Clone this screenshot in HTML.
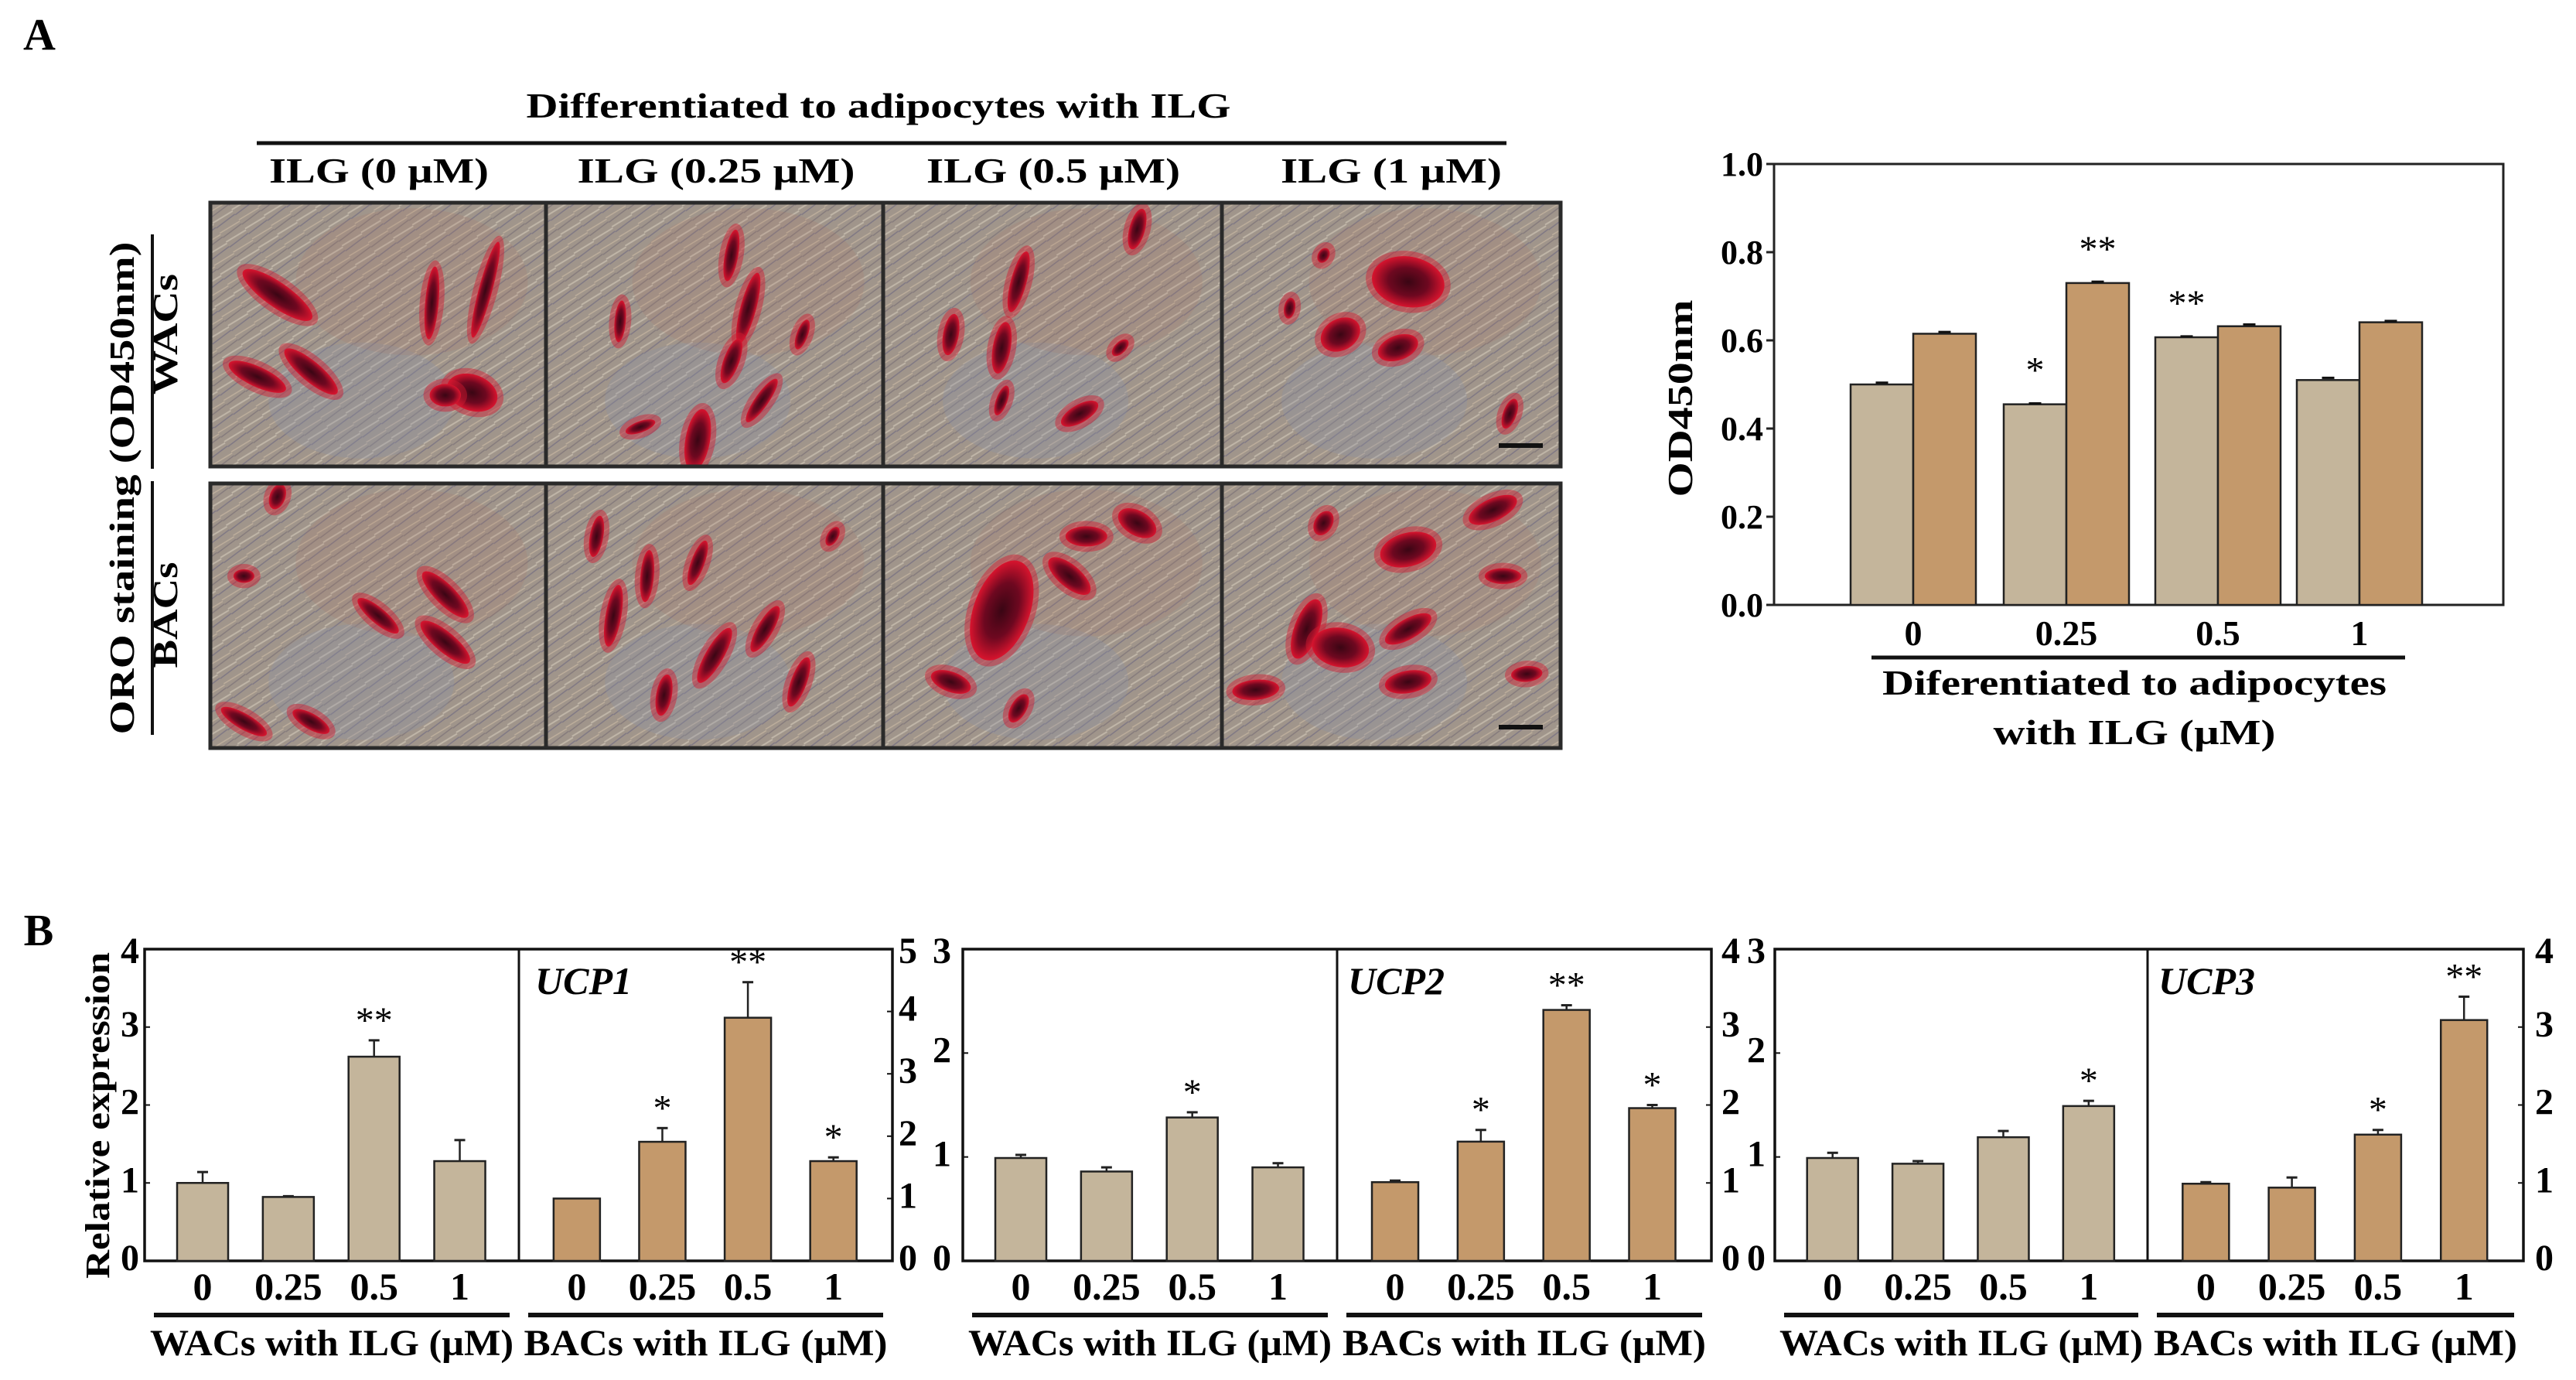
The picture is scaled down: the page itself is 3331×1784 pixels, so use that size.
<!DOCTYPE html>
<html><head><meta charset="utf-8"><style>
html,body{margin:0;padding:0;background:#fff}
svg{display:block}
text{font-family:"Liberation Serif",serif}
.b{font-weight:bold}
</style></head><body>
<svg id="fig" width="3331" height="1784" viewBox="0 0 3331 1784" xmlns="http://www.w3.org/2000/svg">
<defs>
<pattern id="fib" width="30" height="30" patternUnits="userSpaceOnUse" patternTransform="rotate(-35)">
<rect width="30" height="30" fill="#a0958b"/>
<line x1="0" y1="4" x2="30" y2="6" stroke="#c0b6a8" stroke-width="2"/>
<line x1="0" y1="12" x2="30" y2="11" stroke="#7f7884" stroke-width="1.5"/>
<line x1="0" y1="20" x2="30" y2="22" stroke="#bdae9c" stroke-width="1.5"/>
<line x1="0" y1="27" x2="30" y2="26" stroke="#857b7c" stroke-width="1.5"/>
</pattern>
<radialGradient id="blob"><stop offset="0" stop-color="#3a0614"/><stop offset="0.55" stop-color="#6e0820"/><stop offset="1" stop-color="#d8142e"/></radialGradient>
</defs>
<g id="panelA"></g>
<g id="chartA"></g>
<g id="panelB"></g>
</svg>
<script>
const NS="http://www.w3.org/2000/svg";
function el(parent,tag,attrs,txt){const e=document.createElementNS(NS,tag);for(const k in attrs)e.setAttribute(k,attrs[k]);if(txt!==undefined)e.textContent=txt;parent.appendChild(e);return e;}

// ---------- Chart A data ----------
const aCategories=["0","0.25","0.5","1"];
const aWacs=[0.50,0.455,0.607,0.51];
const aBacs=[0.615,0.73,0.632,0.641];
const aWacsErr=[0.004,0.002,0.002,0.005];
const aBacsErr=[0.004,0.003,0.004,0.003];
const aTicks=[0,0.2,0.4,0.6,0.8,1.0];
const aTickLabels=["0.0","0.2","0.4","0.6","0.8","1.0"];
const aStars=[{g:1,s:0,t:"*"},{g:1,s:1,t:"**"},{g:2,s:0,t:"**"}];

// ---------- Panel B data ----------
const bCategories=["0","0.25","0.5","1"];
const ucp1Wacs=[1.0,0.82,2.62,1.28];
const ucp1WacsErr=[0.14,0.01,0.21,0.27];
const ucp1Bacs=[1.0,1.91,3.9,1.6];
const ucp1BacsErr=[0,0.22,0.57,0.06];
const ucp2Wacs=[0.99,0.86,1.38,0.90];
const ucp2WacsErr=[0.03,0.04,0.05,0.04];
const ucp2Bacs=[1.01,1.53,3.22,1.96];
const ucp2BacsErr=[0.02,0.15,0.06,0.04];
const ucp3Wacs=[0.99,0.935,1.19,1.49];
const ucp3WacsErr=[0.05,0.025,0.06,0.05];
const ucp3Bacs=[0.99,0.94,1.62,3.09];
const ucp3BacsErr=[0.02,0.13,0.06,0.3];
const ucp1Stars=[["",  "","**",""],["","*","**","*"]];
const ucp2Stars=[["","","*",""],["","*","**","*"]];
const ucp3Stars=[["","","","*"],["","","*","**"]];

const BEIGE="#c4b59b", TAN="#c4996b";

// ================= Panel A micrographs =================
const A=document.getElementById('panelA');
let t=el(A,'text',{x:51,y:64,'font-size':58,class:'b','text-anchor':'middle'},'A');

t=el(A,'text',{x:1136,y:152,'font-size':46,class:'b','text-anchor':'middle',textLength:911,lengthAdjust:'spacingAndGlyphs'},'Differentiated to adipocytes with ILG');

let ln=el(A,'line',{x1:332,y1:185,x2:1948,y2:185,stroke:'#111','stroke-width':5});

const colLabels=["ILG (0 µM)","ILG (0.25 µM)","ILG (0.5 µM)","ILG (1 µM)"];
const colX=[490,926,1362,1799];const colW=[284,359,328,286];
colLabels.forEach((s,i)=>{const e=el(A,'text',{x:colX[i],y:236,'font-size':46,class:'b','text-anchor':'middle',textLength:colW[i],lengthAdjust:'spacingAndGlyphs'},s);
});
t=el(A,'text',{x:0,y:0,'font-size':46,class:'b','text-anchor':'middle',transform:'translate(173,631) rotate(-90)',textLength:637,lengthAdjust:'spacingAndGlyphs'},'ORO staining (OD450nm)');

t=el(A,'text',{x:0,y:0,'font-size':46,class:'b','text-anchor':'middle',transform:'translate(229,432) rotate(-90)',textLength:156,lengthAdjust:'spacingAndGlyphs'},'WACs');

t=el(A,'text',{x:0,y:0,'font-size':46,class:'b','text-anchor':'middle',transform:'translate(229,795) rotate(-90)',textLength:137,lengthAdjust:'spacingAndGlyphs'},'BACs');

ln=el(A,'line',{x1:197,y1:303,x2:197,y2:606,stroke:'#111','stroke-width':4});

ln=el(A,'line',{x1:197,y1:622,x2:197,y2:950,stroke:'#111','stroke-width':4});


const colEdges=[272,706,1142,1580,2018];
const rowEdges=[[262,603],[625,967]];
const blobs=[
 [[0.2,0.35,80,22,-35],[0.14,0.66,60,18,-25],[0.3,0.64,65,18,-40],[0.66,0.38,70,12,85],[0.82,0.33,95,12,75],[0.78,0.72,50,32,-20],[0.7,0.73,30,20,0]],
 [[0.55,0.2,50,12,80],[0.6,0.4,70,14,75],[0.22,0.45,40,10,85],[0.55,0.6,45,14,70],[0.45,0.9,60,22,80],[0.64,0.75,50,12,55],[0.28,0.85,30,10,20],[0.76,0.5,30,10,70]],
 [[0.4,0.3,60,14,75],[0.35,0.55,50,16,80],[0.2,0.5,40,14,80],[0.75,0.1,40,14,75],[0.58,0.8,40,16,30],[0.35,0.75,30,10,70],[0.7,0.55,20,10,45]],
 [[0.55,0.3,70,45,-10],[0.35,0.5,40,28,30],[0.52,0.55,40,22,20],[0.2,0.4,20,10,80],[0.85,0.8,30,12,70],[0.3,0.2,15,10,60]],
 [[0.2,0.05,25,14,70],[0.5,0.5,50,14,-40],[0.7,0.42,60,18,-45],[0.7,0.6,60,18,-40],[0.1,0.9,50,14,-30],[0.3,0.9,40,14,-30],[0.1,0.35,20,12,0]],
 [[0.15,0.2,40,12,80],[0.2,0.5,60,14,80],[0.3,0.35,50,12,85],[0.45,0.3,45,12,70],[0.5,0.65,60,16,60],[0.65,0.55,50,14,60],[0.75,0.75,50,14,70],[0.35,0.8,40,14,80],[0.85,0.2,20,10,60]],
 [[0.35,0.48,100,50,70],[0.55,0.35,50,20,-40],[0.75,0.15,40,22,-30],[0.6,0.2,40,18,0],[0.2,0.75,40,18,-20],[0.4,0.85,30,14,60]],
 [[0.55,0.25,55,30,15],[0.8,0.1,50,20,25],[0.3,0.15,25,16,60],[0.25,0.55,60,22,70],[0.35,0.62,55,35,-10],[0.55,0.55,50,18,30],[0.55,0.75,45,20,10],[0.1,0.78,45,18,5],[0.9,0.72,30,14,5],[0.83,0.35,35,14,0]]
];
let k=0;
rowEdges.forEach((r,ri)=>{
 for(let ci=0;ci<4;ci++){
  const x0=colEdges[ci],x1=colEdges[ci+1],y0=r[0],y1=r[1];
  const g=el(A,'g',{});
  
  const cp=el(g,'clipPath',{id:'cp'+k});el(cp,'rect',{x:x0,y:y0,width:x1-x0,height:y1-y0});
  const inner=el(g,'g',{'clip-path':'url(#cp'+k+')'});
  el(inner,'rect',{x:x0,y:y0,width:x1-x0,height:y1-y0,fill:'url(#fib)'});
  el(inner,'ellipse',{cx:x0+(x1-x0)*0.45,cy:y0+(y1-y0)*0.75,rx:120,ry:75,fill:'#8a93a6',opacity:0.3});
  el(inner,'ellipse',{cx:x0+(x1-x0)*0.6,cy:y0+(y1-y0)*0.3,rx:150,ry:95,fill:'#b07060',opacity:0.15});
  blobs[k].forEach(b=>{
   const cx=x0+(x1-x0)*b[0],cy=y0+(y1-y0)*b[1];
   const L=b[2]*1.35,W=b[3]*1.45;
   el(inner,'ellipse',{cx:cx,cy:cy,rx:L/2+8,ry:W/2+7,fill:'#d01a30',opacity:0.45,transform:`rotate(${-b[4]} ${cx} ${cy})`});
   el(inner,'ellipse',{cx:cx,cy:cy,rx:L/2,ry:W/2,fill:'url(#blob)',transform:`rotate(${-b[4]} ${cx} ${cy})`});
  });
  if(ci===3){el(inner,'rect',{x:1938,y:y1-30,width:57,height:6,fill:'#111'});}
  el(g,'rect',{x:x0,y:y0,width:x1-x0,height:y1-y0,fill:'none',stroke:'#2a2a2a','stroke-width':5});
  k++;
 }
});

// ================= Chart A =================
const C=document.getElementById('chartA');
const aX0=2294,aX1=3237,aY0=212,aY1=782;
const ay=v=>aY1-(v/1.0)*(aY1-aY0);
const aGroupC=[2474,2672,2868,3051];
const aBw=81;
let r=el(C,'rect',{x:aX0,y:aY0,width:aX1-aX0,height:aY1-aY0,fill:'none',stroke:'#222','stroke-width':3});

aTicks.forEach((v,i)=>{
 const tk=el(C,'line',{x1:aX0-10,x2:aX0,y1:ay(v),y2:ay(v),stroke:'#222','stroke-width':3});
 
 const tl=el(C,'text',{x:aX0-14,y:ay(v)+15,'font-size':44,class:'b','text-anchor':'end'},aTickLabels[i]);
 
});
aCategories.forEach((c,i)=>{
 [[aWacs,aWacsErr,BEIGE,-1],[aBacs,aBacsErr,TAN,0]].forEach(([vals,errs,col,off],s)=>{
  const x=aGroupC[i]+off*aBw;
  const bar=el(C,'rect',{x:x,y:ay(vals[i]),width:aBw,height:aY1-ay(vals[i]),fill:col,stroke:'#222','stroke-width':2.5});
  
  const eb=el(C,'line',{x1:x+aBw/2-8,x2:x+aBw/2+8,y1:ay(vals[i]+errs[i]),y2:ay(vals[i]+errs[i]),stroke:'#111','stroke-width':3});
  
 });
 const xl=el(C,'text',{x:aGroupC[i],y:834,'font-size':46,class:'b','text-anchor':'middle'},c);
 
});
aStars.forEach(st=>{
 const vals=st.s===0?aWacs:aBacs;const x=aGroupC[st.g]+(st.s===0?-aBw/2:aBw/2);
 const s=el(C,'text',{x:x,y:ay(vals[st.g])-28,'font-size':48,'text-anchor':'middle'},st.t);
 
});
ln=el(C,'line',{x1:2420,x2:3110,y1:850,y2:850,stroke:'#111','stroke-width':5});

t=el(C,'text',{x:2760,y:898,'font-size':46,class:'b','text-anchor':'middle',textLength:652,lengthAdjust:'spacingAndGlyphs'},'Diferentiated to adipocytes');

t=el(C,'text',{x:2760,y:962,'font-size':46,class:'b','text-anchor':'middle',textLength:365,lengthAdjust:'spacingAndGlyphs'},'with ILG (µM)');

t=el(C,'text',{x:0,y:0,'font-size':46,class:'b','text-anchor':'middle',transform:'translate(2188,515) rotate(-90)',textLength:255,lengthAdjust:'spacingAndGlyphs'},'OD450nm');


// ================= Panel B =================
const B=document.getElementById('panelB');
t=el(B,'text',{x:50,y:1222,'font-size':58,class:'b','text-anchor':'middle'},'B');

t=el(B,'text',{x:0,y:0,'font-size':44,class:'b','text-anchor':'middle',transform:'translate(141,1442) rotate(-90)',textLength:422,lengthAdjust:'spacingAndGlyphs'},'Relative expression');

const bTop=1227,bBot=1630;
function panel(name,x0,xd,x1,lMax,rMax,lLabX,rLabX,wv,we,bv,be,stars,nameX){
 const g=el(B,'g',{});
 
 const yl=v=>bBot-v/lMax*(bBot-bTop), yr=v=>bBot-v/rMax*(bBot-bTop);
 const fr=el(g,'rect',{x:x0,y:bTop,width:x1-x0,height:bBot-bTop,fill:'none',stroke:'#111','stroke-width':3.5});
 
 const dv=el(g,'line',{x1:xd,x2:xd,y1:bTop,y2:bBot,stroke:'#111','stroke-width':3});
 
 for(let v=0;v<=lMax;v++){
  const tl=el(g,'text',{x:lLabX,y:yl(v)+(v===lMax?18:12),'font-size':48,class:'b','text-anchor':'middle'},String(v));
  
  const tk=el(g,'line',{x1:x0,x2:x0+7,y1:yl(v),y2:yl(v),stroke:'#111','stroke-width':2});
  
 }
 for(let v=0;v<=rMax;v++){
  const tl=el(g,'text',{x:rLabX,y:yr(v)+(v===rMax?18:12),'font-size':48,class:'b','text-anchor':'middle'},String(v));
  
  const tk=el(g,'line',{x1:x1-7,x2:x1,y1:yr(v),y2:yr(v),stroke:'#111','stroke-width':2});
  
 }
 const nt=el(g,'text',{x:nameX,y:1285,'font-size':50,'font-weight':'bold','font-style':'italic'},name);
 
 [[x0,xd,wv,we,yl,BEIGE,66,0,'WACs with ILG (µM)'],[xd,x1,bv,be,yr,TAN,60,1,'BACs with ILG (µM)']].forEach(([a,b,vals,errs,sc,col,bw,si,lab])=>{
  const w=b-a;
  bCategories.forEach((c,i)=>{
   const cx=a+w*(0.155+i*0.229);
   const bar=el(g,'rect',{x:cx-bw/2,y:sc(vals[i]),width:bw,height:bBot-sc(vals[i]),fill:col,stroke:'#222','stroke-width':2.5});
   
   if(errs[i]>0){
    const e1=el(g,'line',{x1:cx,x2:cx,y1:sc(vals[i]),y2:sc(vals[i]+errs[i]),stroke:'#222','stroke-width':2.5});
    
    const e2=el(g,'line',{x1:cx-7,x2:cx+7,y1:sc(vals[i]+errs[i]),y2:sc(vals[i]+errs[i]),stroke:'#222','stroke-width':3});
    
   }
   if(stars[si][i]){
    const s=el(g,'text',{x:cx,y:sc(vals[i]+errs[i])-10,'font-size':48,'text-anchor':'middle'},stars[si][i]);
    
   }
   const xl=el(g,'text',{x:cx,y:1680,'font-size':50,class:'b','text-anchor':'middle'},c);
   
  });
  const ul=el(g,'line',{x1:a+12,x2:b-12,y1:1700,y2:1700,stroke:'#111','stroke-width':6});
  
  const gl=el(g,'text',{x:(a+b)/2,y:1752,'font-size':48,class:'b','text-anchor':'middle',textLength:470,lengthAdjust:'spacingAndGlyphs'},lab);
  
 });
}
panel('UCP1',187,671,1154,4,5,168,1174,ucp1Wacs,ucp1WacsErr,ucp1Bacs,ucp1BacsErr,ucp1Stars,692);
panel('UCP2',1245,1729,2213,3,4,1218,2238,ucp2Wacs,ucp2WacsErr,ucp2Bacs,ucp2BacsErr,ucp2Stars,1743);
panel('UCP3',2295,2777,3263,3,4,2271,3290,ucp3Wacs,ucp3WacsErr,ucp3Bacs,ucp3BacsErr,ucp3Stars,2791);
</script>
</body></html>
